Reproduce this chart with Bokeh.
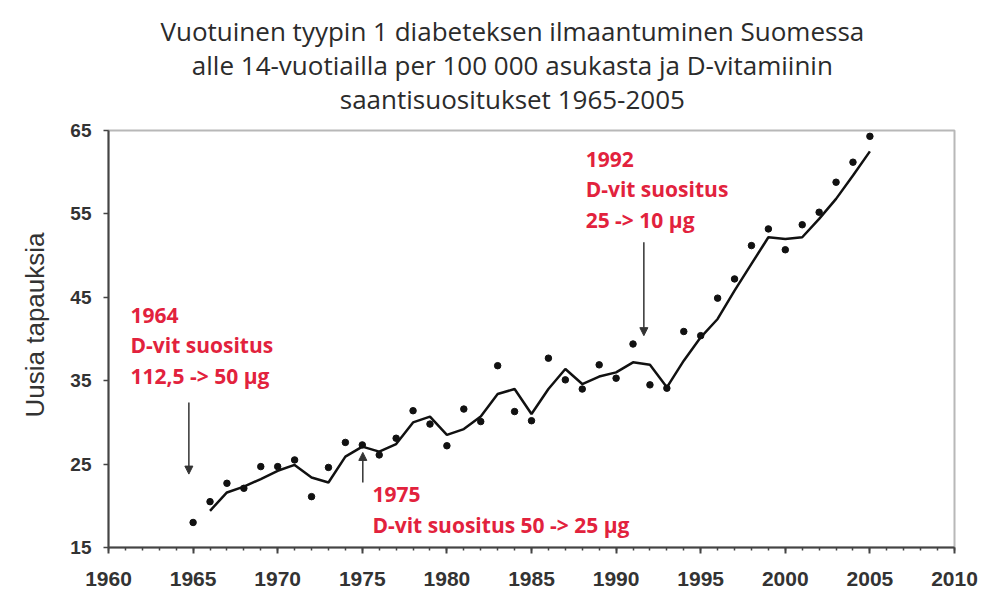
from bokeh.plotting import figure
from bokeh.models import Range1d, FixedTicker, Label, Arrow, NormalHead, Title
from bokeh.embed import file_html
from bokeh.resources import INLINE

# ---- data ----
years = list(range(1965, 2006))
incidence = [18.0, 20.5, 22.7, 22.1, 24.7, 24.7, 25.5, 21.1, 24.6, 27.6,
             27.3, 26.1, 28.1, 31.4, 29.8, 27.2, 31.6, 30.1, 36.8, 31.3,
             30.2, 37.7, 35.1, 34.0, 36.9, 35.3, 39.4, 34.5, 34.1, 40.9,
             40.4, 44.9, 47.2, 51.2, 53.2, 50.7, 53.7, 55.2, 58.8, 61.2,
             64.3]
trend_years = list(range(1966, 2006))
trend = [19.4, 21.6, 22.3, 23.2, 24.2, 24.9, 23.4, 22.8, 25.9, 27.1,
         26.5, 27.4, 30.0, 30.7, 28.5, 29.2, 30.7, 33.4, 34.0, 31.0,
         34.0, 36.4, 34.6, 35.5, 36.0, 37.2, 36.9, 34.2, 37.4, 40.2,
         42.4, 45.8, 49.0, 52.2, 52.0, 52.2, 54.4, 56.8, 59.6, 62.5]
x_major_ticks = [1960, 1965, 1970, 1975, 1980, 1985, 1990, 1995, 2000, 2005, 2010]
x_minor_ticks = list(range(1960, 2011))
y_ticks = [15, 25, 35, 45, 55, 65]

title_lines = ["Vuotuinen tyypin 1 diabeteksen ilmaantuminen Suomessa",
               "alle 14-vuotiailla per 100 000 asukasta ja D-vitamiinin",
               "saantisuositukset 1965-2005"]
y_label = "Uusia tapauksia"

note_texts = ["1964\nD-vit suositus\n112,5 -> 50 µg",
              "1975\nD-vit suositus 50 -> 25 µg",
              "1992\nD-vit suositus\n25 -> 10 µg"]
note_x = [1961.3, 1975.6, 1988.2]
note_y = [44.6, 23.1, 63.3]
arrow_x = [1964.75, 1975.03, 1991.64]
arrow_y_start = [32.4, 22.8, 51.6]
arrow_y_end = [23.8, 26.4, 40.4]

RED = "#e2223d"
DARK = "#333333"

p = figure(width=984, height=595, output_backend="svg", toolbar_location=None,
           x_range=Range1d(1960, 2010), y_range=Range1d(15, 65),
           min_border_left=108, min_border_right=30, min_border_top=130,
           min_border_bottom=48, background_fill_color="white",
           border_fill_color="white")
p.grid.visible = False
p.outline_line_color = "#b8b8b8"
p.outline_line_width = 2

# axes
xa = p.xaxis[0]
xa.ticker = FixedTicker(ticks=x_major_ticks, minor_ticks=x_minor_ticks)
xa.major_tick_in = 0
xa.major_tick_out = 6
xa.minor_tick_in = 0
xa.minor_tick_out = 3
xa.axis_line_color = "#444444"
xa.axis_line_width = 2
xa.major_tick_line_color = "#444444"
xa.major_tick_line_width = 2
xa.minor_tick_line_color = "#444444"
xa.minor_tick_line_width = 1.5
xa.major_label_text_font = "Liberation Sans"
xa.major_label_text_font_style = "bold"
xa.major_label_text_font_size = "21px"
xa.major_label_text_color = DARK
xa.major_label_standoff = 18

ya = p.yaxis[0]
ya.ticker = FixedTicker(ticks=y_ticks, minor_ticks=[])
ya.major_tick_in = 0
ya.major_tick_out = 5
ya.axis_line_color = "#444444"
ya.axis_line_width = 2
ya.major_tick_line_color = "#444444"
ya.major_tick_line_width = 1.5
ya.major_label_text_font = "Liberation Sans"
ya.major_label_text_font_style = "bold"
ya.major_label_text_font_size = "19px"
ya.major_label_text_color = DARK
ya.major_label_standoff = 12

# data
p.line(trend_years, trend, line_width=2.5, line_color="#111111")
p.scatter(years, incidence, size=6.5, fill_color="#111111", line_color="#111111")

# arrows
for xa_, y0, y1 in zip(arrow_x, arrow_y_start, arrow_y_end):
    p.add_layout(Arrow(x_start=xa_, y_start=y0, x_end=xa_, y_end=y1,
                       line_color="#333333", line_width=1.5,
                       end=NormalHead(size=8, fill_color="#333333",
                                      line_color="#333333")))

# annotations
for t, nx, ny in zip(note_texts, note_x, note_y):
    p.add_layout(Label(x=nx, y=ny, text=t, text_font="Open Sans",
                       text_font_style="bold", text_font_size="21px",
                       text_color=RED, text_baseline="top", text_align="left",
                       text_line_height=1.1))

# title: one three-line block, lines centred
title_kw = dict(text="\n".join(title_lines), text_font="Open Sans",
                text_font_style="normal", text_font_size="26px",
                text_color="#2b2b2b", text_line_height=0.95,
                vertical_align="top", standoff=24)
if "text_align" in Title.properties():
    title = Title(align="left", offset=52, text_align="center", **title_kw)
else:
    title = Title(align="center", **title_kw)
p.add_layout(title, "above")

# y axis title on the left side
p.add_layout(Title(text=y_label, align="left", offset=130, vertical_align="top",
                   standoff=32, text_font="Liberation Sans",
                   text_font_style="normal", text_font_size="26px",
                   text_color=DARK), "left")

open("out.html", "w").write(file_html(p, INLINE))
